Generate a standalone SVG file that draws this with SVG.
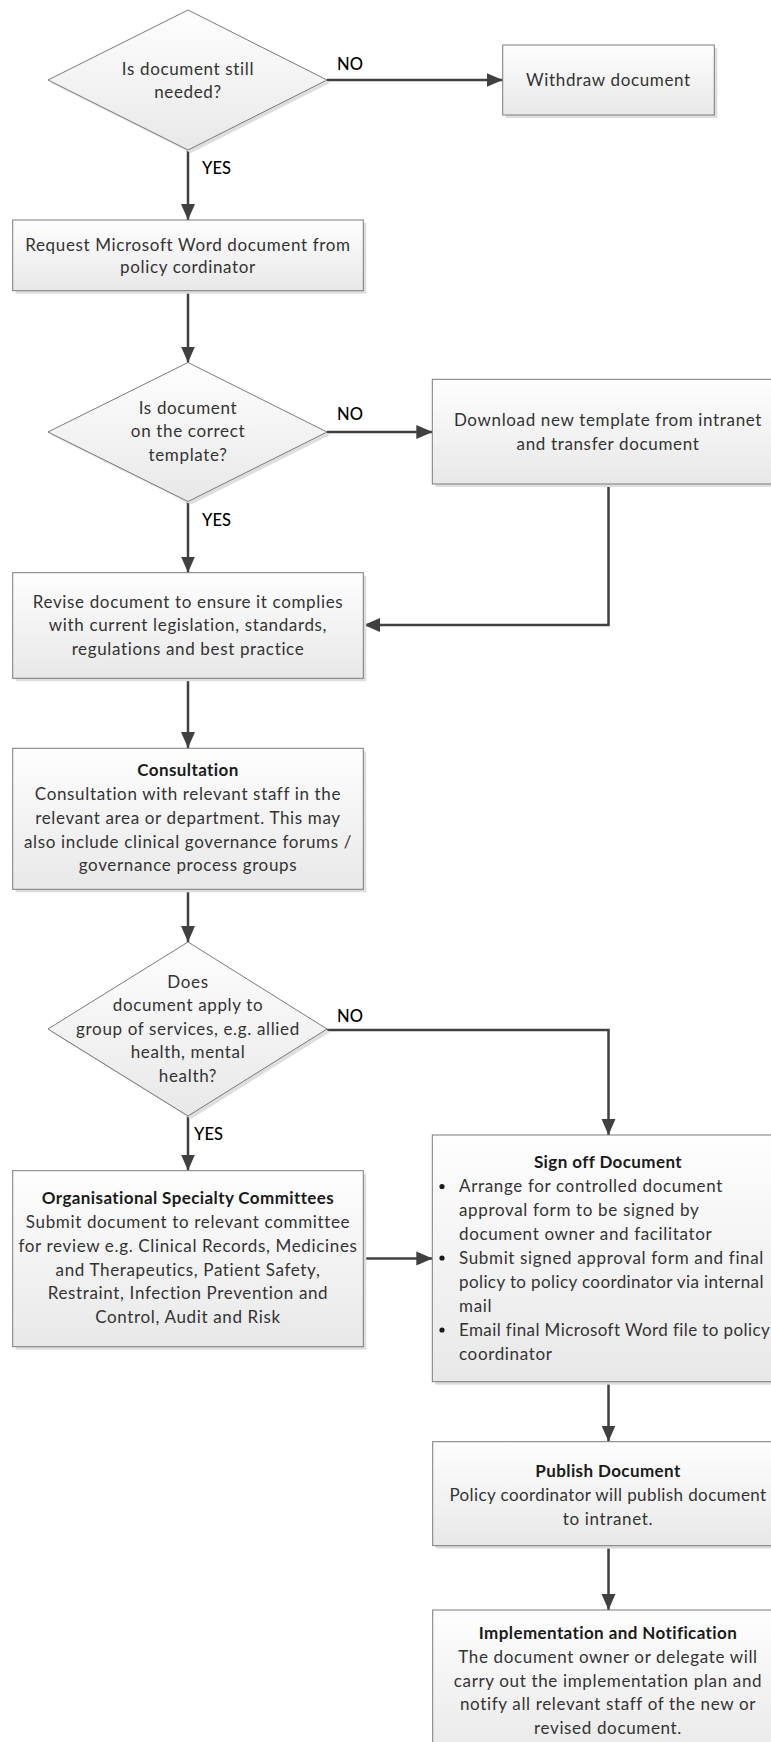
<svg xmlns="http://www.w3.org/2000/svg" width="771" height="1742" viewBox="0 0 771 1742">
<defs>
<linearGradient id="g" x1="0" y1="0" x2="0" y2="1">
<stop offset="0" stop-color="#fefefe"/>
<stop offset="1" stop-color="#e8e8e8"/>
</linearGradient>
<marker id="a" markerUnits="userSpaceOnUse" markerWidth="16" markerHeight="16" refX="16" refY="8" orient="auto">
<path d="M0,1 L16,8 L0,15 z" fill="#404040"/>
</marker>
<style>
.sh{fill:#dedede}
.box{fill:url(#g);stroke:#7a7a7a;stroke-width:1}
.t{font-family:Lato,"Liberation Sans",sans-serif;font-size:17px;letter-spacing:0.65px;fill:#333;text-anchor:middle}
.l{text-anchor:start}
.n{letter-spacing:0.4px}
.b{font-weight:bold;fill:#1a1a1a;letter-spacing:0.4px}
.lbl{font-family:Lato,"Liberation Sans",sans-serif;font-size:16.5px;font-weight:500;fill:#000}
.c{stroke:#404040;stroke-width:2.5;fill:none;marker-end:url(#a)}
.dot{fill:#1a1a1a}
</style>
</defs>
<rect width="771" height="1742" fill="#fff"/>

<g id="connectors">
<path class="c" d="M327,80 H502.7"/>
<path class="c" d="M188,150 V220"/>
<path class="c" d="M188,291 V362.5"/>
<path class="c" d="M327,432 H432.3"/>
<path class="c" d="M188,502 V572.5"/>
<path class="c" d="M608.5,484 V625 H364"/>
<path class="c" d="M188,678.5 V748"/>
<path class="c" d="M188,889.5 V942"/>
<path class="c" d="M327,1030 H608.5 V1135"/>
<path class="c" d="M188,1116 V1170.5"/>
<path class="c" d="M363.5,1258.5 H432.3"/>
<path class="c" d="M608.5,1382 V1441.5"/>
<path class="c" d="M608.5,1546 V1610"/>
</g>

<g id="labels">
<text class="lbl" x="337" y="69.5">NO</text>
<text class="lbl" x="202" y="173.5">YES</text>
<text class="lbl" x="337" y="419.5">NO</text>
<text class="lbl" x="202" y="525.5">YES</text>
<text class="lbl" x="337" y="1021.5">NO</text>
<text class="lbl" x="194" y="1140">YES</text>
</g>

<g id="d1">
<polygon class="sh" points="191,13 330,83 191,153 51,83"/>
<polygon class="box" points="188,10 327,80 188,150 48,80"/>
<text class="t" x="188" y="75">Is document still</text>
<text class="t" x="188" y="98">needed?</text>
</g>

<g id="withdraw">
<rect class="sh" x="505.7" y="48" width="211.6" height="70"/>
<rect class="box" x="502.7" y="45" width="211.6" height="70"/>
<text class="t" x="608.5" y="86">Withdraw document</text>
</g>

<g id="request">
<rect class="sh" x="15.7" y="223" width="350.6" height="70.7"/>
<rect class="box" x="12.7" y="220" width="350.6" height="70.7"/>
<text class="t" x="188" y="251">Request Microsoft Word document from</text>
<text class="t" x="188" y="273">policy cordinator</text>
</g>

<g id="d2">
<polygon class="sh" points="191,365.5 330,435 191,504.5 51,435"/>
<polygon class="box" points="188,362.5 327,432 188,501.5 48,432"/>
<text class="t" x="188" y="413.5">Is document</text>
<text class="t" x="188" y="437">on the correct</text>
<text class="t" x="188" y="461">template?</text>
</g>

<g id="download">
<rect class="sh" x="435.3" y="382.3" width="351.4" height="104.7"/>
<rect class="box" x="432.3" y="379.3" width="351.4" height="104.7"/>
<text class="t" x="608" y="426">Download new template from intranet</text>
<text class="t" x="608" y="449.5">and transfer document</text>
</g>

<g id="revise">
<rect class="sh" x="15.7" y="575.7" width="350.6" height="105.6"/>
<rect class="box" x="12.7" y="572.7" width="350.6" height="105.6"/>
<text class="t" x="188" y="607.5">Revise document to ensure it complies</text>
<text class="t" x="188" y="631">with current legislation, standards,</text>
<text class="t" x="188" y="654.5">regulations and best practice</text>
</g>

<g id="consultation">
<rect class="sh" x="15.7" y="751.3" width="350.6" height="141"/>
<rect class="box" x="12.7" y="748.3" width="350.6" height="141"/>
<text class="t b" x="188" y="776">Consultation</text>
<text class="t" x="188" y="800">Consultation with relevant staff in the</text>
<text class="t" x="188" y="823.5">relevant area or department. This may</text>
<text class="t" x="188" y="847.5">also include clinical governance forums /</text>
<text class="t" x="188" y="871">governance process groups</text>
</g>

<g id="d3">
<polygon class="sh" points="191,945 330,1032 191,1119 51,1032"/>
<polygon class="box" points="188,942 327,1029 188,1116 48,1029"/>
<text class="t" x="188" y="987.5">Does</text>
<text class="t" x="188" y="1011">document apply to</text>
<text class="t" x="188" y="1034.5">group of services, e.g. allied</text>
<text class="t" x="188" y="1058">health, mental</text>
<text class="t" x="188" y="1081.5">health?</text>
</g>

<g id="committees">
<rect class="sh" x="15.7" y="1173.7" width="350.6" height="176"/>
<rect class="box" x="12.7" y="1170.7" width="350.6" height="176"/>
<text class="t b" x="188" y="1203.5">Organisational Specialty Committees</text>
<text class="t" x="188" y="1228">Submit document to relevant committee</text>
<text class="t" x="188" y="1252">for review e.g. Clinical Records, Medicines</text>
<text class="t" x="188" y="1275.5">and Therapeutics, Patient Safety,</text>
<text class="t" x="188" y="1299">Restraint, Infection Prevention and</text>
<text class="t" x="188" y="1323">Control, Audit and Risk</text>
</g>

<g id="signoff">
<rect class="sh" x="435.3" y="1138" width="351.4" height="246.7"/>
<rect class="box" x="432.3" y="1135" width="351.4" height="246.7"/>
<text class="t b" x="608" y="1168">Sign off Document</text>
<circle class="dot" cx="442" cy="1186.5" r="2.6"/>
<circle class="dot" cx="442" cy="1258" r="2.6"/>
<circle class="dot" cx="442" cy="1330" r="2.6"/>
<text class="t l" x="459" y="1192">Arrange for controlled document</text>
<text class="t l" x="459" y="1216">approval form to be signed by</text>
<text class="t l" x="459" y="1239.5">document owner and facilitator</text>
<text class="t l" x="459" y="1263.5">Submit signed approval form and final</text>
<text class="t l n" x="459" y="1287.5">policy to policy coordinator via internal</text>
<text class="t l" x="459" y="1311.5">mail</text>
<text class="t l n" x="459" y="1335.5">Email final Microsoft Word file to policy</text>
<text class="t l" x="459" y="1359.5">coordinator</text>
</g>

<g id="publish">
<rect class="sh" x="435.7" y="1444.7" width="351" height="104"/>
<rect class="box" x="432.7" y="1441.7" width="351" height="104"/>
<text class="t b" x="608" y="1477">Publish Document</text>
<text class="t n" x="608" y="1501">Policy coordinator will publish document</text>
<text class="t" x="608" y="1524.5">to intranet.</text>
</g>

<g id="implementation">
<rect class="sh" x="435.7" y="1613" width="351" height="150"/>
<rect class="box" x="432.7" y="1610" width="351" height="150"/>
<text class="t b" x="608" y="1638.5">Implementation and Notification</text>
<text class="t" x="608" y="1662.5">The document owner or delegate will</text>
<text class="t" x="608" y="1686.5">carry out the implementation plan and</text>
<text class="t" x="608" y="1710">notify all relevant staff of the new or</text>
<text class="t" x="608" y="1733.5">revised document.</text>
</g>
</svg>
